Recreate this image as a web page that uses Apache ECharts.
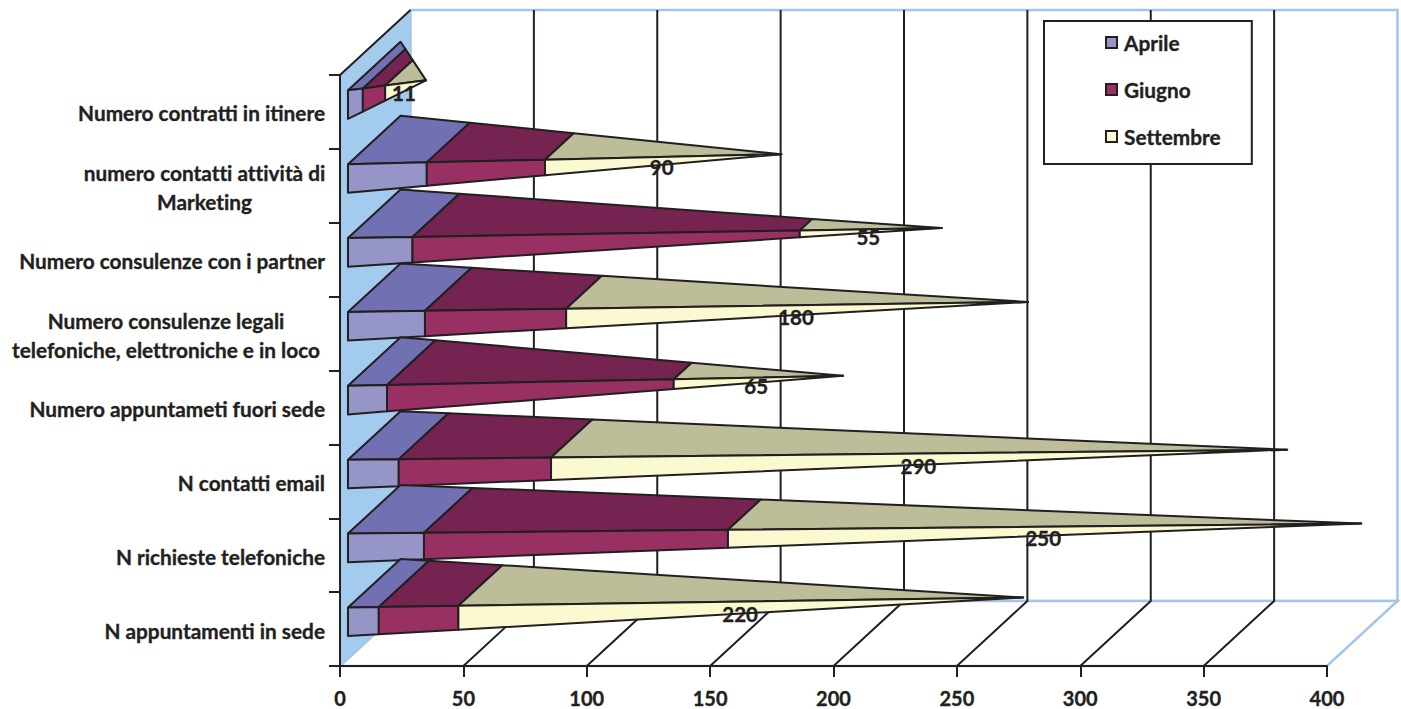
<!DOCTYPE html>
<html>
<head>
<meta charset="utf-8">
<style>
html,body{margin:0;padding:0;background:#fff}
#c{width:1401px;height:709px}
#c text{font-variant-ligatures:none;stroke:#231f20;stroke-width:.35px}
</style>
<script src="https://cdn.jsdelivr.net/npm/echarts@6/dist/echarts.min.js"></script>
</head>
<body>
<div id="c"></div>
<script>
var categories = [
  'N appuntamenti in sede',
  'N richieste telefoniche',
  'N contatti email',
  'Numero appuntameti fuori sede',
  'Numero consulenze legali\ntelefoniche, elettroniche e in loco',
  'Numero consulenze con i partner',
  'numero contatti attività di\nMarketing',
  'Numero contratti in itinere'
];
var aprile = [12, 30, 20, 15, 30, 25, 30, 4];
var giugno = [31, 120, 60, 110, 55, 150, 45, 6];
var settembre = [220, 250, 290, 65, 180, 55, 90, 11];
var xTicks = [0, 50, 100, 150, 200, 250, 300, 350, 400];

var INK = '#231f20', WALL = '#a3cbee', EDGE = '#a3c6e8';
var FONT = 'Lato, "Open Sans", sans-serif';
var LABEL_SIZE = 20.8;
var DX = 70.5, DY = 65;         // oblique depth of the box
var ZC = 0.486, HZ = 0.373;     // cone centre and half-depth, as a share of the depth
var HY = 0.1935;                // cone half-height, as a share of a category band

function seriesCone(name, values, front, top, offsetOf, showLabel) {
  return {
    type: 'custom', name: name, coordinateSystem: 'cartesian2d', z: 3,
    itemStyle: {color: front, borderColor: INK, borderWidth: 2},
    encode: {x: 2, y: 0},
    data: values.map(function (v, i) {
      var base = offsetOf(i);
      return [i, base, base + v, aprile[i] + giugno[i] + settembre[i], v];
    }),
    renderItem: function (params, api) {
      var i = api.value(0), a = api.value(1), b = api.value(2), T = api.value(3), val = api.value(4);
      var band = api.size([0, 1])[1];
      function P(v, up, depth) {
        var c = api.coord([v, i]);
        return [c[0] + depth * DX, c[1] + up * band - depth * DY];
      }
      function corners(v) {
        var s = 1 - v / T;
        return {
          fb: P(v, s * HY, ZC - s * HZ),
          ft: P(v, -s * HY, ZC - s * HZ),
          bt: P(v, -s * HY, ZC + s * HZ)
        };
      }
      var A = corners(a), B = corners(b);
      var line = {stroke: INK, lineWidth: 2, lineJoin: 'round'};
      var z2 = (8 - i) * 10;
      var kids = [
        {type: 'polygon', z2: z2, shape: {points: [A.ft, A.bt, B.bt, B.ft]},
          style: Object.assign({fill: top}, line)},
        {type: 'polygon', z2: z2 + 1, shape: {points: [A.fb, A.ft, B.ft, B.fb]},
          style: Object.assign({fill: front}, line)}
      ];
      if (showLabel) {
        var vm = (a + b) / 2, sm = 1 - vm / T, c = api.coord([vm, i]);
        kids.push({type: 'text', z2: 1000, style: {
          text: String(val), x: c[0] + 31 - 20 * sm, y: c[1] - 26 + 27 * sm,
          align: 'center', verticalAlign: 'middle', fill: INK,
          font: 'bold 20.5px ' + FONT
        }});
      }
      return {type: 'group', children: kids};
    }
  };
}

var option = {
  animation: false,
  backgroundColor: '#fff',
  grid: {left: 340, top: 75, width: 987, height: 591, containLabel: false},
  legend: {
    left: 1044, top: 21, orient: 'vertical', icon: 'rect',
    itemWidth: 11, itemHeight: 11, itemGap: 26,
    padding: [11, 32, 17, 61],
    borderColor: INK, borderWidth: 2, backgroundColor: '#fff', z: 10,
    data: ['Aprile', 'Giugno', 'Settembre'],
    textStyle: {color: INK, fontFamily: FONT, fontWeight: 'bold', fontSize: LABEL_SIZE, padding: [0, 0, 0, 2]}
  },
  xAxis: {
    type: 'value', min: 0, max: 400, interval: 50, z: 5,
    axisLine: {show: true, lineStyle: {color: INK, width: 2}},
    axisTick: {show: true, length: 11, lineStyle: {color: INK, width: 2}},
    axisLabel: {color: INK, fontFamily: FONT, fontWeight: 'bold', fontSize: 20, lineHeight: 20, margin: 22,
      showMinLabel: true, showMaxLabel: true},
    splitLine: {show: false}
  },
  yAxis: {
    type: 'category', data: categories, z: 5,
    axisLine: {show: true, onZero: false, lineStyle: {color: INK, width: 2}},
    axisTick: {show: true, length: 11, lineStyle: {color: INK, width: 2}},
    axisLabel: {
      color: INK, fontFamily: FONT, fontWeight: 'bold', fontSize: LABEL_SIZE, margin: 15, interval: 0,
      lineHeight: 29, padding: [2, 0, 0, 0],
      formatter: function (name) {
        var parts = name.split('\n');
        if (parts.length === 1) return name;
        var tag = parts[1].length > 20 ? 'w' : 'n';
        return parts.map(function (p) { return '{' + tag + '|' + p + '}'; }).join('\n');
      },
      rich: {
        w: {width: 318, align: 'center', fontFamily: FONT, fontWeight: 'bold', fontSize: LABEL_SIZE, lineHeight: 29, color: INK},
        n: {width: 241, align: 'center', fontFamily: FONT, fontWeight: 'bold', fontSize: LABEL_SIZE, lineHeight: 29, color: INK}
      }
    },
    splitLine: {show: false}
  },
  series: [
    {
      type: 'custom', name: 'box', coordinateSystem: 'cartesian2d', z: 1, silent: true,
      data: [[0, 0]], encode: {x: 0, y: 1},
      renderItem: function (params, api) {
        var g = params.coordSys, L = g.x, R = g.x + g.width, T = g.y, B = g.y + g.height;
        return {type: 'group', children: [
          {type: 'polygon', shape: {points: [[L + DX, T - DY], [R + DX, T - DY], [R + DX, B - DY], [L + DX, B - DY]]},
            style: {fill: '#fff', stroke: EDGE, lineWidth: 2.5}},
          {type: 'polygon', shape: {points: [[L, B], [L + DX, B - DY], [R + DX, B - DY], [R, B]]},
            style: {fill: '#fff', stroke: EDGE, lineWidth: 2.5}},
          {type: 'polygon', shape: {points: [[L, T], [L + DX, T - DY], [L + DX, B - DY], [L, B]]},
            style: {fill: WALL, stroke: EDGE, lineWidth: 1}},
          {type: 'line', shape: {x1: L, y1: T, x2: L + DX, y2: T - DY},
            style: {stroke: INK, lineWidth: 2}}
        ]};
      }
    },
    {
      type: 'custom', name: 'grid', coordinateSystem: 'cartesian2d', z: 2, silent: true,
      data: xTicks.slice(1, -1).map(function (v) { return [v, 0]; }), encode: {x: 0, y: 1},
      renderItem: function (params, api) {
        var g = params.coordSys, B = g.y + g.height, T = g.y;
        var x = api.coord([api.value(0), 0])[0];
        return {type: 'group', children: [
          {type: 'polyline', shape: {points: [[x, B], [x + DX, B - DY], [x + DX, T - DY]]},
            style: {fill: 'none', stroke: INK, lineWidth: 2}}
        ]};
      }
    },
    seriesCone('Aprile', aprile, '#9595c8', '#7070b3', function () { return 0; }, false),
    seriesCone('Giugno', giugno, '#993064', '#752350', function (i) { return aprile[i]; }, false),
    seriesCone('Settembre', settembre, '#fbf9cf', '#bdbd99', function (i) { return aprile[i] + giugno[i]; }, true)
  ]
};
var chart = echarts.init(document.getElementById('c'), null, {renderer: 'svg'});
chart.setOption(option);
</script>
</body>
</html>
